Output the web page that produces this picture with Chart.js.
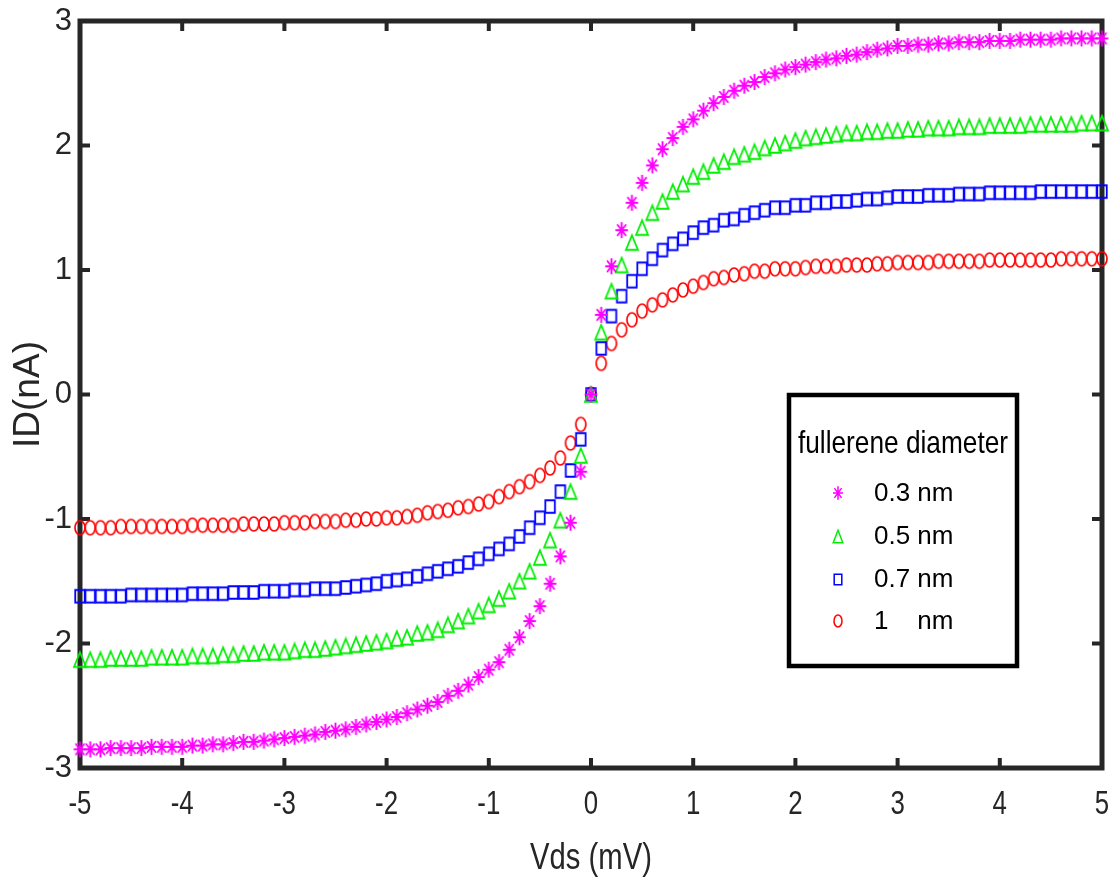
<!DOCTYPE html>
<html>
<head>
<meta charset="utf-8">
<script src="https://cdn.jsdelivr.net/npm/chart.js@4.4.1/dist/chart.umd.min.js"></script>
<style>
  html, body { margin: 0; padding: 0; background: #ffffff; }
  #wrap { width: 1113px; height: 885px; }
</style>
</head>
<body>
<div id="wrap"><canvas id="c" width="1113" height="885"></canvas></div>
<script>
// ---- Data ----
const vds = [
  -5.0,-4.9,-4.8,-4.7,-4.6,-4.5,-4.4,-4.3,-4.2,-4.1,
  -4.0,-3.9,-3.8,-3.7,-3.6,-3.5,-3.4,-3.3,-3.2,-3.1,
  -3.0,-2.9,-2.8,-2.7,-2.6,-2.5,-2.4,-2.3,-2.2,-2.1,
  -2.0,-1.9,-1.8,-1.7,-1.6,-1.5,-1.4,-1.3,-1.2,-1.1,
  -1.0,-0.9,-0.8,-0.7,-0.6,-0.5,-0.4,-0.3,-0.2,-0.1,
  0.0,
  0.1,0.2,0.3,0.4,0.5,0.6,0.7,0.8,0.9,1.0,
  1.1,1.2,1.3,1.4,1.5,1.6,1.7,1.8,1.9,2.0,
  2.1,2.2,2.3,2.4,2.5,2.6,2.7,2.8,2.9,3.0,
  3.1,3.2,3.3,3.4,3.5,3.6,3.7,3.8,3.9,4.0,
  4.1,4.2,4.3,4.4,4.5,4.6,4.7,4.8,4.9,5.0
];

const id03 = [
  -2.85,-2.85,-2.85,-2.84,-2.84,-2.84,-2.84,-2.83,-2.83,-2.83,
  -2.83,-2.82,-2.82,-2.81,-2.81,-2.80,-2.79,-2.79,-2.78,-2.77,
  -2.76,-2.75,-2.74,-2.73,-2.71,-2.70,-2.69,-2.67,-2.65,-2.63,
  -2.61,-2.59,-2.56,-2.53,-2.50,-2.47,-2.42,-2.38,-2.33,-2.27,
  -2.21,-2.15,-2.05,-1.95,-1.82,-1.70,-1.52,-1.30,-1.03,-0.62,
  0.00,
  0.64,1.03,1.32,1.54,1.70,1.84,1.97,2.06,2.15,2.21,
  2.28,2.34,2.39,2.44,2.48,2.51,2.55,2.58,2.61,2.63,
  2.65,2.67,2.69,2.70,2.72,2.73,2.75,2.77,2.78,2.80,
  2.80,2.81,2.81,2.82,2.82,2.83,2.83,2.83,2.84,2.84,
  2.84,2.85,2.85,2.85,2.85,2.86,2.86,2.86,2.86,2.86
];

const id05 = [
  -2.13,-2.13,-2.13,-2.12,-2.12,-2.12,-2.12,-2.11,-2.11,-2.11,
  -2.11,-2.10,-2.10,-2.10,-2.09,-2.09,-2.08,-2.08,-2.07,-2.07,
  -2.07,-2.06,-2.05,-2.05,-2.04,-2.03,-2.02,-2.01,-2.00,-1.99,
  -1.98,-1.96,-1.95,-1.92,-1.91,-1.89,-1.85,-1.82,-1.78,-1.74,
  -1.69,-1.64,-1.58,-1.50,-1.42,-1.31,-1.17,-1.01,-0.78,-0.49,
  0.00,
  0.50,0.83,1.04,1.22,1.34,1.46,1.55,1.63,1.69,1.75,
  1.79,1.84,1.87,1.91,1.93,1.95,1.98,2.00,2.02,2.04,
  2.06,2.07,2.08,2.09,2.10,2.10,2.11,2.11,2.12,2.12,
  2.13,2.13,2.14,2.14,2.14,2.15,2.15,2.15,2.16,2.16,
  2.16,2.16,2.17,2.17,2.17,2.17,2.17,2.18,2.18,2.18
];

const id07 = [
  -1.62,-1.62,-1.62,-1.62,-1.62,-1.61,-1.61,-1.61,-1.61,-1.61,
  -1.61,-1.60,-1.60,-1.60,-1.60,-1.59,-1.59,-1.59,-1.58,-1.58,
  -1.58,-1.57,-1.57,-1.56,-1.56,-1.56,-1.55,-1.54,-1.53,-1.52,
  -1.50,-1.49,-1.48,-1.46,-1.44,-1.42,-1.40,-1.38,-1.35,-1.32,
  -1.28,-1.24,-1.20,-1.14,-1.07,-0.99,-0.90,-0.78,-0.61,-0.36,
  0.00,
  0.37,0.63,0.79,0.91,1.01,1.09,1.16,1.21,1.25,1.30,
  1.34,1.36,1.40,1.41,1.44,1.46,1.48,1.50,1.50,1.52,
  1.52,1.54,1.54,1.55,1.55,1.56,1.57,1.57,1.58,1.59,
  1.59,1.59,1.60,1.60,1.60,1.61,1.61,1.61,1.62,1.62,
  1.62,1.62,1.62,1.63,1.63,1.63,1.63,1.63,1.63,1.63
];

const id10 = [
  -1.07,-1.07,-1.07,-1.07,-1.06,-1.06,-1.06,-1.06,-1.06,-1.06,
  -1.06,-1.05,-1.05,-1.05,-1.05,-1.05,-1.04,-1.04,-1.04,-1.04,
  -1.03,-1.03,-1.03,-1.02,-1.02,-1.02,-1.01,-1.01,-1.00,-1.00,
  -0.99,-0.99,-0.98,-0.97,-0.95,-0.94,-0.93,-0.91,-0.90,-0.88,
  -0.86,-0.82,-0.78,-0.74,-0.70,-0.65,-0.59,-0.51,-0.39,-0.24,
  0.00,
  0.25,0.41,0.52,0.60,0.67,0.72,0.76,0.80,0.84,0.87,
  0.90,0.93,0.94,0.96,0.97,0.99,0.99,1.01,1.01,1.01,
  1.02,1.03,1.03,1.03,1.04,1.04,1.04,1.05,1.05,1.06,
  1.06,1.06,1.06,1.07,1.07,1.07,1.07,1.07,1.08,1.08,
  1.08,1.08,1.08,1.08,1.08,1.09,1.09,1.09,1.09,1.09
];

const seriesLabels = ['0.3 nm', '0.5 nm', '0.7 nm', '1    nm'];
const legendTitle = 'fullerene diameter';
const xTitle = 'Vds (mV)';
const yTitle = 'ID(nA)';
const xRange = [-5, 5];
const yRange = [-3, 3];

// ---- Marker sprites (open MATLAB-like markers, slightly taller than wide) ----
function makeMarker(kind, w, h, color, lw) {
  const pad = 2;
  const c = document.createElement('canvas');
  c.width = Math.ceil(w + 2 * pad);
  c.height = Math.ceil(h + 2 * pad);
  const g = c.getContext('2d');
  g.strokeStyle = color;
  g.lineWidth = lw;
  const cx = c.width / 2, cy = c.height / 2;
  const hw = w / 2, hh = h / 2;
  g.beginPath();
  if (kind === 'star') {
    g.moveTo(cx, cy - hh); g.lineTo(cx, cy + hh);
    g.moveTo(cx - hw, cy); g.lineTo(cx + hw, cy);
    const dx = hw * 0.72, dy = hh * 0.72;
    g.moveTo(cx - dx, cy - dy); g.lineTo(cx + dx, cy + dy);
    g.moveTo(cx - dx, cy + dy); g.lineTo(cx + dx, cy - dy);
  } else if (kind === 'triangle') {
    g.moveTo(cx, cy - hh);
    g.lineTo(cx + hw, cy + hh);
    g.lineTo(cx - hw, cy + hh);
    g.closePath();
  } else if (kind === 'square') {
    g.rect(cx - hw, cy - hh, w, h);
  } else {
    g.ellipse(cx, cy, hw, hh, 0, 0, Math.PI * 2);
  }
  g.stroke();
  return c;
}

const styles = [
  { color: '#ff00ff', kind: 'star',     w: 12.5, h: 16,   lw: 1.9 },
  { color: '#00ee00', kind: 'triangle', w: 12,   h: 14.5, lw: 1.8 },
  { color: '#0000ff', kind: 'square',   w: 9.5,  h: 12.5, lw: 1.8 },
  { color: '#ff0000', kind: 'circle',   w: 10,   h: 14,   lw: 1.7 }
];
const markers = styles.map(s => makeMarker(s.kind, s.w, s.h, s.color, s.lw));
const legendMarkers = styles.map(s => makeMarker(s.kind, s.w * 0.8, s.h * 0.85, s.color, 1.5));

const allY = [id03, id05, id07, id10];
function toPoints(xs, ys) { return xs.map((x, i) => ({ x: x, y: ys[i] })); }

const datasets = allY.map((ys, i) => ({
  label: seriesLabels[i],
  data: toPoints(vds, ys),
  showLine: false,
  pointStyle: markers[i],
  pointRadius: 8,
  pointHoverRadius: 8,
  borderColor: styles[i].color,
  backgroundColor: 'rgba(0,0,0,0)',
  clip: false
}));

const axisColor = '#262626';
const regular = "'Liberation Sans', Arial, sans-serif";

// horizontally condensed text (the reference uses a narrow face)
function condensedText(ctx, text, x, y, size, sx, align, baseline, color) {
  ctx.save();
  ctx.translate(x, y);
  ctx.scale(sx, 1);
  ctx.font = size + "px " + regular;
  ctx.fillStyle = color;
  ctx.textAlign = align;
  ctx.textBaseline = baseline;
  ctx.fillText(text, 0, 0);
  ctx.restore();
}

// Frame + inward tick marks on all four sides
const framePlugin = {
  id: 'frame',
  beforeDatasetsDraw(chart) {
    const { ctx, chartArea: a, scales } = chart;
    ctx.save();
    ctx.strokeStyle = axisColor;
    ctx.lineWidth = 4;
    const tl = 10;
    scales.x.ticks.forEach(t => {
      const px = scales.x.getPixelForValue(t.value);
      ctx.beginPath();
      ctx.moveTo(px, a.bottom); ctx.lineTo(px, a.bottom - tl);
      ctx.moveTo(px, a.top); ctx.lineTo(px, a.top + tl);
      ctx.stroke();
    });
    scales.y.ticks.forEach(t => {
      const py = scales.y.getPixelForValue(t.value);
      ctx.beginPath();
      ctx.moveTo(a.left, py); ctx.lineTo(a.left + tl, py);
      ctx.moveTo(a.right, py); ctx.lineTo(a.right - tl, py);
      ctx.stroke();
    });
    ctx.lineWidth = 5;
    ctx.strokeRect(a.left, a.top, a.right - a.left, a.bottom - a.top);
    ctx.restore();
  },
  afterDraw(chart) {
    const { ctx, chartArea: a, scales } = chart;
    scales.x.ticks.forEach(t => {
      const px = scales.x.getPixelForValue(t.value);
      condensedText(ctx, String(t.label), px, a.bottom + 37, 34, 0.76, 'center', 'middle', axisColor);
    });
    condensedText(ctx, xTitle, (a.left + a.right) / 2, 859, 37, 0.79, 'center', 'middle', axisColor);
  }
};

// Boxed legend drawn inside the plot area
const legendPlugin = {
  id: 'boxLegend',
  afterDraw(chart) {
    const { ctx } = chart;
    const box = { x: 789, y: 395, w: 228, h: 271 };
    ctx.save();
    ctx.fillStyle = '#ffffff';
    ctx.fillRect(box.x, box.y, box.w, box.h);
    ctx.strokeStyle = '#000000';
    ctx.lineWidth = 4.5;
    ctx.strokeRect(box.x, box.y, box.w, box.h);
    ctx.restore();

    condensedText(ctx, legendTitle, box.x + box.w / 2, 453, 32, 0.82, 'center', 'alphabetic', '#000000');

    const rowY = [493, 536, 579, 621];
    chart.data.datasets.forEach((ds, i) => {
      const y = rowY[i];
      const m = legendMarkers[i];
      ctx.drawImage(m, Math.round(838 - m.width / 2), Math.round(y - m.height / 2));
      ctx.save();
      ctx.fillStyle = '#000000';
      ctx.textAlign = 'left';
      ctx.textBaseline = 'middle';
      ctx.font = "26px " + regular;
      ctx.fillText(ds.label, 874, y + 1);
      ctx.restore();
    });
  }
};

new Chart(document.getElementById('c'), {
  type: 'scatter',
  data: { datasets: datasets },
  options: {
    responsive: false,
    devicePixelRatio: 1,
    animation: false,
    layout: { padding: { left: 0, right: 11, top: 21, bottom: 0 } },
    plugins: {
      legend: { display: false },
      tooltip: { enabled: false }
    },
    scales: {
      x: {
        type: 'linear',
        min: xRange[0], max: xRange[1],
        afterFit: s => { s.height = 117; s.paddingLeft = 0; s.paddingRight = 0; },
        grid: { display: false, drawTicks: false },
        border: { display: false },
        ticks: { stepSize: 1, display: false }
      },
      y: {
        type: 'linear',
        min: yRange[0], max: yRange[1],
        afterFit: s => { s.width = 80; s.paddingTop = 0; s.paddingBottom = 0; },
        grid: { display: false, drawTicks: false },
        border: { display: false },
        ticks: {
          stepSize: 1,
          color: axisColor,
          padding: 8,
          font: { family: regular, size: 31 }
        },
        title: {
          display: true,
          text: yTitle,
          color: axisColor,
          padding: { top: 7, bottom: 0 },
          font: { family: regular, size: 37, lineHeight: 1.2 }
        }
      }
    }
  },
  plugins: [framePlugin, legendPlugin]
});
</script>
</body>
</html>
